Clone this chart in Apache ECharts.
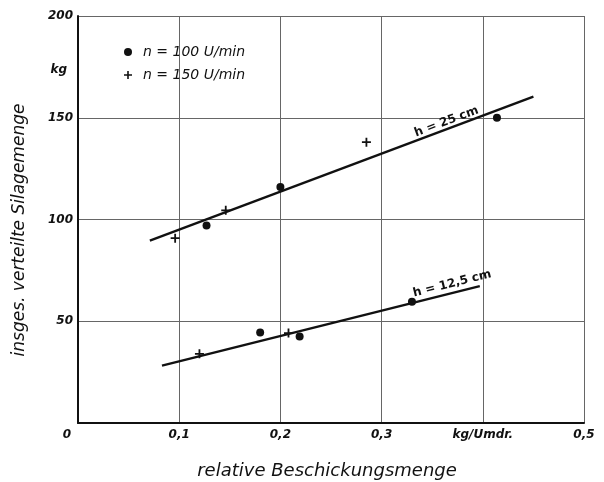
<!DOCTYPE html>
<html>
<head>
<meta charset="utf-8">
<script src="https://cdn.jsdelivr.net/npm/echarts@6/dist/echarts.min.js"></script>
<style>
  html, body { margin: 0; padding: 0; background: #fff; }
  #chart { width: 604px; height: 482px; }
</style>
</head>
<body>
<div id="chart"></div>
<script>
// Measured points at n = 100 U/min (dots)
const feed100 = [0.127, 0.200, 0.414, 0.180, 0.219, 0.330];
const mass100 = [97, 116, 150, 44.5, 42.5, 59.6];
// Measured points at n = 150 U/min (crosses)
const feed150 = [0.096, 0.146, 0.285, 0.120, 0.208];
const mass150 = [90.8, 104.5, 138, 34, 44.2];
// Fitted lines: [start x, end x] and [start y, end y]
const fit25X = [0.071, 0.450];
const fit25Y = [89.6, 160.4];
const fit125X = [0.083, 0.397];
const fit125Y = [28.2, 67.3];
// Axis tick labels
const xTickLabels = ['0', '0,1', '0,2', '0,3', 'kg/Umdr.', '0,5'];
const yTickLabels = ['', '50', '100', '150', '200'];

const FONT = '"DejaVu Sans", sans-serif';
const INK = '#111';
const plusPath = 'path://M3.6,0H5.4V3.6H9V5.4H5.4V9H3.6V5.4H0V3.6H3.6Z';

function pairs(xs, ys) { return xs.map((x, i) => [x, ys[i]]); }

const chart = echarts.init(document.getElementById('chart'), null, { renderer: 'canvas' });

const option = {
  animation: false,
  backgroundColor: '#fff',
  grid: { left: 78, right: 20, top: 16, bottom: 59, containLabel: false, outerBoundsMode: 'none' },
  xAxis: {
    type: 'value', min: 0, max: 0.5, interval: 0.1,
    axisLine: { show: true, lineStyle: { color: INK, width: 2 } },
    axisTick: { show: false },
    splitLine: { show: true, showMinLine: false, lineStyle: { color: '#666', width: 1 } },
    axisLabel: {
      margin: 6,
      formatter: (v) => {
        const t = xTickLabels[Math.round(v * 10)];
        return Math.round(v * 10) === 0 ? '{o|' + t + '}' : t;
      },
      color: INK, fontFamily: FONT, fontSize: 12, fontStyle: 'italic', fontWeight: 'bold',
      rich: { o: { padding: [0, 22, 0, 0], color: INK, fontFamily: FONT, fontSize: 12, fontStyle: 'italic', fontWeight: 'bold' } }
    },
    name: 'relative Beschickungsmenge',
    nameLocation: 'middle', nameGap: 39,
    nameTextStyle: { color: INK, fontFamily: FONT, fontSize: 18, fontStyle: 'italic', padding: [0, 8, 0, 0] }
  },
  yAxis: {
    type: 'value', min: 0, max: 200, interval: 50,
    axisLine: { show: true, lineStyle: { color: INK, width: 2 } },
    axisTick: { show: false },
    splitLine: { show: true, showMinLine: false, lineStyle: { color: '#666', width: 1 } },
    axisLabel: {
      margin: 5,
      formatter: (v) => yTickLabels[Math.round(v / 50)],
      color: INK, fontFamily: FONT, fontSize: 12, fontStyle: 'italic', fontWeight: 'bold'
    },
    name: 'insges. verteilte Silagemenge',
    nameLocation: 'middle', nameGap: 50,
    nameTextStyle: { color: INK, fontFamily: FONT, fontSize: 17, fontStyle: 'italic', padding: [0, 21, 0, 0] }
  },
  legend: {
    orient: 'vertical', left: 119, top: 40, itemGap: 9,
    itemWidth: 8, itemHeight: 8,
    textStyle: { color: INK, fontFamily: FONT, fontSize: 14, fontStyle: 'italic', lineHeight: 14, padding: [0, 0, 0, 6] },
    data: [
      { name: 'n = 100 U/min', icon: 'circle' },
      { name: 'n = 150 U/min', icon: plusPath }
    ]
  },
  series: [
    {
      name: 'h = 25 cm', type: 'line', data: pairs(fit25X, fit25Y),
      showSymbol: false, symbol: 'none', silent: true,
      lineStyle: { color: INK, width: 2.4 }, z: 2
    },
    {
      name: 'h = 12,5 cm', type: 'line', data: pairs(fit125X, fit125Y),
      showSymbol: false, symbol: 'none', silent: true,
      lineStyle: { color: INK, width: 2.4 }, z: 2
    },
    {
      name: 'n = 100 U/min', type: 'scatter', data: pairs(feed100, mass100),
      symbol: 'circle', symbolSize: 8,
      itemStyle: { color: INK, opacity: 1 }, z: 3
    },
    {
      name: 'n = 150 U/min', type: 'scatter', data: pairs(feed150, mass150),
      symbol: plusPath, symbolSize: 9,
      itemStyle: { color: INK, opacity: 1 }, z: 3
    }
  ]
};

chart.setOption(option);

// Rotated captions set along each fitted line, plus the unit label beside the y axis
function lineCaption(text, xs, ys, t, offset) {
  const p0 = chart.convertToPixel({ gridIndex: 0 }, [xs[0], ys[0]]);
  const p1 = chart.convertToPixel({ gridIndex: 0 }, [xs[1], ys[1]]);
  const dx = p1[0] - p0[0], dy = p1[1] - p0[1];
  const len = Math.hypot(dx, dy);
  const angle = Math.atan2(-dy, dx);
  const px = p0[0] + dx * t, py = p0[1] + dy * t;
  // unit normal on the upper side of the line
  const nx = dy / len, ny = -dx / len;
  return {
    type: 'text',
    x: px + nx * offset, y: py + ny * offset,
    rotation: angle,
    style: {
      text: text, fill: INK, font: 'bold 12px "DejaVu Sans", sans-serif',
      align: 'center', verticalAlign: 'middle'
    },
    z: 10
  };
}

chart.setOption({
  graphic: [
    lineCaption('h = 25 cm', fit25X, fit25Y, 0.78, 7),
    lineCaption('h = 12,5 cm', fit125X, fit125Y, 0.92, 9),
    {
      type: 'text', x: 67, y: 70,
      style: {
        text: 'kg', fill: INK, font: 'italic bold 12px "DejaVu Sans", sans-serif',
        align: 'right', verticalAlign: 'middle'
      }
    }
  ]
});
</script>
</body>
</html>
